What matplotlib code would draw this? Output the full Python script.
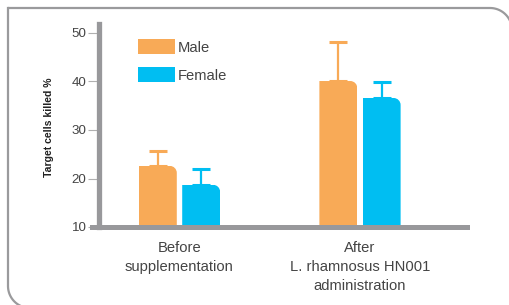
import matplotlib
matplotlib.use("Agg")
import matplotlib.pyplot as plt
from matplotlib.path import Path
from matplotlib.patches import PathPatch, Patch
import numpy as np

groups = ["Before\nsupplementation", "After\nL. rhamnosus HN001\nadministration"]
series = ["Male", "Female"]
male = [22.6, 40.1]
female = [18.7, 36.6]
male_err = [3.1, 8.0]
female_err = [3.3, 3.3]
yticks = [10, 20, 30, 40, 50]

W, H = 510, 305
fig = plt.figure(figsize=(W / 100, H / 100), dpi=100)
plt.rcParams['font.family'] = ['Liberation Sans', 'DejaVu Sans']

# background overlay axes in pixel coordinates for the rounded frame
bg = fig.add_axes([0, 0, 1, 1], zorder=-5)
bg.set_xlim(0, W)
bg.set_ylim(H, 0)
bg.axis("off")
L, T, R, B, r = 8, 8, 512, 308, 22
t = np.linspace(0, np.pi / 2, 30)
# top edge + top-right arc
xs = [L, R - r] + list(R - r + r * np.sin(t)) + [R]
ys = [T, T] + list(T + r - r * np.cos(t)) + [B]
bg.plot(xs, ys, color="#9a9a9c", lw=1.6, clip_on=False, solid_capstyle="butt")
# left edge + bottom-left arc
xs2 = [L, L] + list(L + r - r * np.cos(t)) + [R]
ys2 = [T, B - r] + list(B - r + r * np.sin(t)) + [B]
bg.plot(xs2, ys2, color="#9a9a9c", lw=1.6, clip_on=False, solid_capstyle="projecting")

ax_left, ax_right = 92, 467
ax_top, ax_bot = 24, 227
ax = fig.add_axes([ax_left / W, 1 - ax_bot / H, (ax_right - ax_left) / W, (ax_bot - ax_top) / H])
ax.patch.set_alpha(0)

px_per_unit = 180.5
py_per_unit = 4.85
x = np.arange(len(groups))
xl = (ax_left - 179.5) / px_per_unit
xr = 1 + (ax_right - 360) / px_per_unit
ax.set_xlim(xl, xr)
ax.set_ylim(10, 10 + (ax_bot - ax_top) / py_per_unit)

c_m = "#F8AA57"
c_f = "#00BEF2"
bw = 0.21
off = 0.12
ax.errorbar(x - off, male, yerr=[[0] * 2, male_err], fmt="none", ecolor=c_m,
            elinewidth=1.6, capsize=6.2, capthick=2.2, zorder=2)
ax.errorbar(x + off, female, yerr=[[0] * 2, female_err], fmt="none", ecolor=c_f,
            elinewidth=1.6, capsize=6.2, capthick=2.2, zorder=2)
b1 = ax.bar(x - off, np.array(male) - 10, bw, bottom=10, color=c_m, zorder=3)
b2 = ax.bar(x + off, np.array(female) - 10, bw, bottom=10, color=c_f, zorder=3)

# round the top-right corner of each bar
rpx = 7
rx, ry = rpx / px_per_unit, rpx / py_per_unit
kk = 0.5523
for rect in list(b1.patches) + list(b2.patches):
    x0, y0, w, h = rect.get_x(), rect.get_y(), rect.get_width(), rect.get_height()
    v = [(x0, y0 - 1), (x0 + w, y0 - 1), (x0 + w, y0 + h - ry),
         (x0 + w, y0 + h - ry + kk * ry), (x0 + w - rx + kk * rx, y0 + h), (x0 + w - rx, y0 + h),
         (x0, y0 + h), (x0, y0 - 1)]
    c = [Path.MOVETO, Path.LINETO, Path.LINETO, Path.CURVE4, Path.CURVE4, Path.CURVE4,
         Path.LINETO, Path.CLOSEPOLY]
    clip = PathPatch(Path(v, c), transform=ax.transData)
    rect.set_clip_path(clip)

for s in ["top", "right"]:
    ax.spines[s].set_visible(False)
ax.spines["left"].set_position(("data", (99 - 179.5) / px_per_unit))
ax.spines["left"].set_linewidth(3.8)
ax.spines["left"].set_color("#98989b")
ax.spines["bottom"].set_linewidth(3.6)
ax.spines["bottom"].set_color("#98989b")
ax.spines["left"].set_zorder(4)
ax.spines["bottom"].set_zorder(4)

ax.set_yticks(yticks)
ax.set_yticklabels([str(v) for v in yticks])
ax.tick_params(axis="y", length=8, width=0.8, color="#b0b0b0", pad=1,
               labelsize=9.6, labelcolor="#444444")
ax.set_xticks(x)
ax.set_xticklabels(groups, linespacing=1.45)
ax.tick_params(axis="x", length=0, pad=10, labelsize=10.6, labelcolor="#444444")

fig.text(49 / W, 1 - 127 / H, "Target cells killed %", rotation=90, ha="center", va="center",
         fontsize=7.6, fontweight="bold", color="#222222",
         family=["Liberation Sans Narrow", "Liberation Sans"])

handles = [Patch(facecolor=c_m, edgecolor="none"), Patch(facecolor=c_f, edgecolor="none")]
leg = ax.legend(handles, series, loc="upper left", bbox_to_anchor=(138 / W, 1 - 39 / H),
                bbox_transform=fig.transFigure, frameon=False, fontsize=10.6,
                handlelength=2.5, handleheight=1.2, handletextpad=0.2,
                labelspacing=0.85, borderpad=0, borderaxespad=0)
for tx in leg.get_texts():
    tx.set_color("#444444")

fig.savefig("out.png", dpi=100)
